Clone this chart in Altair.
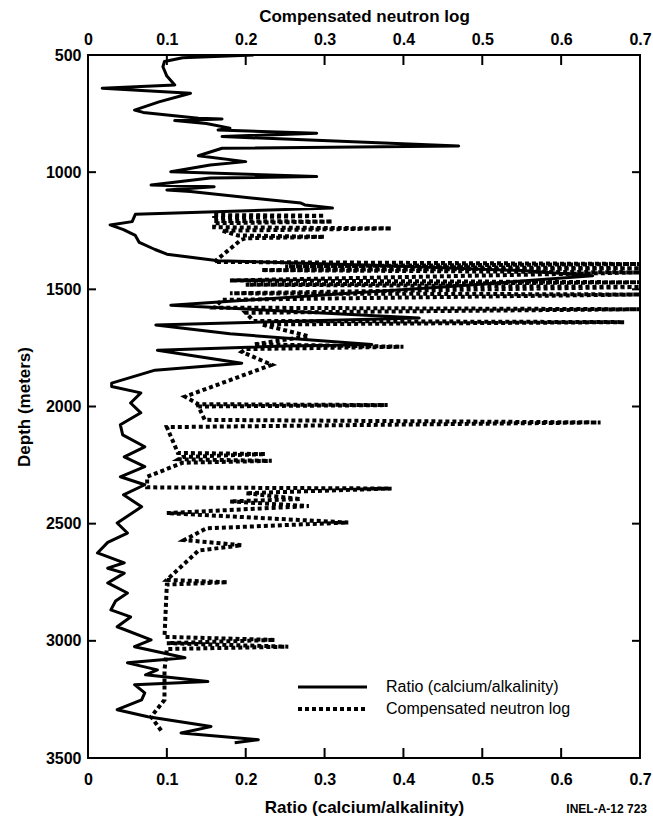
import altair as alt
import pandas as pd

# ---- data ----
ratio_value = [0.21, 0.12, 0.097, 0.095, 0.10, 0.11, 0.018, 0.13, 0.09, 0.059, 0.07, 0.14, 0.17, 0.11, 0.15,
               0.18, 0.165, 0.29, 0.17, 0.47, 0.17, 0.14, 0.20, 0.155, 0.105, 0.29, 0.155, 0.08, 0.16, 0.10,
               0.13, 0.27, 0.275, 0.31, 0.06, 0.056, 0.028, 0.045, 0.06, 0.065, 0.085, 0.10, 0.165, 0.36,
               0.55, 0.64, 0.45, 0.34, 0.105, 0.42, 0.086, 0.18, 0.36, 0.25, 0.088, 0.195, 0.085, 0.03, 0.03,
               0.067, 0.054, 0.067, 0.041, 0.044, 0.072, 0.046, 0.072, 0.041, 0.072, 0.045, 0.068, 0.037,
               0.05, 0.025, 0.012, 0.046, 0.025, 0.046, 0.025, 0.05, 0.035, 0.029, 0.054, 0.037, 0.08, 0.059,
               0.123, 0.05, 0.088, 0.073, 0.152, 0.059, 0.072, 0.068, 0.037, 0.076, 0.156, 0.118, 0.216, 0.186]
ratio_depth = [500, 512, 528, 550, 590, 628, 642, 663, 700, 735, 745, 770, 773, 780, 792,
               812, 820, 834, 848, 888, 898, 930, 955, 969, 998, 1019, 1025, 1055, 1062, 1076,
               1083, 1132, 1140, 1153, 1180, 1211, 1225, 1245, 1270, 1300, 1330, 1350, 1378, 1397,
               1420, 1442, 1490, 1515, 1568, 1622, 1652, 1690, 1735, 1742, 1760, 1815, 1845, 1900, 1915,
               1942, 1985, 2027, 2078, 2121, 2172, 2215, 2257, 2300, 2334, 2377, 2428, 2497,
               2540, 2580, 2625, 2667, 2690, 2711, 2753, 2796, 2830, 2868, 2898, 2940, 2996, 3025,
               3072, 3094, 3124, 3145, 3174, 3187, 3222, 3252, 3294, 3324, 3366, 3393, 3422, 3435]

neutron_value = [0.16, 0.30, 0.16, 0.16, 0.31, 0.16, 0.16, 0.385, 0.17, 0.19, 0.30, 0.20, 0.194, 0.16,
                 0.70, 0.25, 0.70, 0.22, 0.70, 0.18, 0.70, 0.20, 0.70, 0.18, 0.70, 0.17, 0.16, 0.70,
                 0.20, 0.21, 0.68, 0.22, 0.28, 0.21, 0.40, 0.20, 0.195, 0.233, 0.123, 0.14, 0.38, 0.14,
                 0.148, 0.65, 0.10, 0.114, 0.225, 0.12, 0.115, 0.233, 0.12, 0.075, 0.075, 0.385, 0.20,
                 0.27, 0.18, 0.28, 0.10, 0.33, 0.15, 0.122, 0.195, 0.14, 0.10, 0.177, 0.10, 0.097,
                 0.237, 0.10, 0.254, 0.10, 0.097, 0.097, 0.08, 0.095]
neutron_depth = [1183, 1186, 1195, 1208, 1211, 1218, 1235, 1240, 1250, 1270, 1276, 1282, 1289, 1383,
                 1392, 1402, 1410, 1418, 1428, 1462, 1470, 1480, 1490, 1517, 1522, 1545, 1578, 1585,
                 1600, 1635, 1640, 1650, 1700, 1735, 1745, 1755, 1767, 1822, 1958, 1990, 1994, 2000,
                 2057, 2068, 2088, 2198, 2203, 2215, 2225, 2232, 2240, 2300, 2345, 2350, 2370,
                 2395, 2405, 2425, 2455, 2495, 2520, 2570, 2592, 2615, 2740, 2750, 2760, 2983,
                 2996, 3010, 3025, 3035, 3124, 3252, 3324, 3393]

x_ticks = [0, 0.1, 0.2, 0.3, 0.4, 0.5, 0.6, 0.7]
depth_ticks = [500, 1000, 1500, 2000, 2500, 3000, 3500]
legend_labels = ["Ratio (calcium/alkalinity)", "Compensated neutron log"]
footer = "INEL-A-12 723"

# ---- layout ----
W, H = 552, 703
LEFT, TOP = 88, 55
FONT = "Liberation Sans"

df_r = pd.DataFrame({"i": range(len(ratio_value)), "v": ratio_value, "d": ratio_depth})
df_n = pd.DataFrame({"i": range(len(neutron_value)), "v": neutron_value, "d": neutron_depth})

xscale = alt.Scale(domain=[0, 0.7], nice=False, zero=False)
yscale = alt.Scale(domain=[500, 3500], reverse=True, nice=False, zero=False)

common_axis = dict(domain=False, ticks=False, tickSize=0, grid=False, labelFont=FONT,
                   labelFontSize=16, labelFontWeight="bold", labelColor="black",
                   labelFlush=False, labelOverlap=False, titleFont=FONT, titleFontSize=17,
                   titleFontWeight="bold", titleColor="black")

y_axis = alt.Axis(orient="left", values=depth_ticks, format="d", labelPadding=7,
                  title="Depth  (meters)", titlePadding=12, **common_axis)


def Y(field="d:Q"):
    return alt.Y(field, scale=yscale, axis=y_axis)


solid = alt.Chart(df_r).mark_line(color="black", strokeWidth=3, clip=True, strokeJoin="round").encode(
    x=alt.X("v:Q", scale=xscale,
            axis=alt.Axis(orient="bottom", values=x_ticks, format="~g", labelPadding=13,
                          title="Ratio (calcium/alkalinity)", titlePadding=12, **common_axis)),
    y=Y(),
    order="i:Q",
)

dotted = alt.Chart(df_n).mark_line(color="black", strokeWidth=4, strokeDash=[4, 3], clip=True).encode(
    x=alt.X("v:Q", scale=xscale,
            axis=alt.Axis(orient="top", values=x_ticks, format="~g", labelPadding=8,
                          title="Compensated neutron log", titlePadding=6, **common_axis)),
    y=Y(),
    order="i:Q",
)

xt = pd.DataFrame({"v": x_ticks[1:-1]})
yt = pd.DataFrame({"d": depth_ticks[1:-1]})
top_ticks = alt.Chart(xt).mark_rule(color="black", strokeWidth=2).encode(
    x=alt.X("v:Q", scale=xscale, axis=None), y=alt.value(0), y2=alt.value(10))
bot_ticks = alt.Chart(xt).mark_rule(color="black", strokeWidth=2).encode(
    x=alt.X("v:Q", scale=xscale, axis=None), y=alt.value(H - 10), y2=alt.value(H))
left_ticks = alt.Chart(yt).mark_rule(color="black", strokeWidth=2).encode(
    y=Y(), x=alt.value(0), x2=alt.value(8))
right_ticks = alt.Chart(yt).mark_rule(color="black", strokeWidth=2).encode(
    y=Y(), x=alt.value(W - 8), x2=alt.value(W))

leg1 = pd.DataFrame({"t": [legend_labels[0]]})
leg2 = pd.DataFrame({"t": [legend_labels[1]]})
leg_solid = alt.Chart(leg1).mark_rule(color="black", strokeWidth=3).encode(
    x=alt.value(210), x2=alt.value(279), y=alt.value(632))
leg_dot = alt.Chart(leg2).mark_rule(color="black", strokeWidth=4, strokeDash=[4, 3]).encode(
    x=alt.value(210), x2=alt.value(279), y=alt.value(654))
leg_t1 = alt.Chart(leg1).mark_text(align="left", baseline="middle", font=FONT, fontSize=16,
                                   color="black").encode(x=alt.value(298), y=alt.value(632), text="t:N")
leg_t2 = alt.Chart(leg2).mark_text(align="left", baseline="middle", font=FONT, fontSize=16,
                                   color="black").encode(x=alt.value(298), y=alt.value(654), text="t:N")
foot = alt.Chart(pd.DataFrame({"t": [footer]})).mark_text(
    align="right", baseline="middle", font=FONT, fontSize=12, fontWeight="bold", color="black"
).encode(x=alt.value(W + 7), y=alt.value(H + 51), text="t:N")

chart = alt.layer(
    solid, dotted, top_ticks, bot_ticks, left_ticks, right_ticks,
    leg_solid, leg_dot, leg_t1, leg_t2, foot
).resolve_axis(x="independent", y="shared").properties(
    width=W, height=H,
    autosize=alt.AutoSizeParams(type="none"),
    padding={"left": LEFT, "top": TOP, "right": 653 - LEFT - W, "bottom": 818 - TOP - H},
    background="white",
).configure_view(stroke="black", strokeWidth=2)

chart.save("out.html", embed_options={"renderer": "svg", "actions": False})
